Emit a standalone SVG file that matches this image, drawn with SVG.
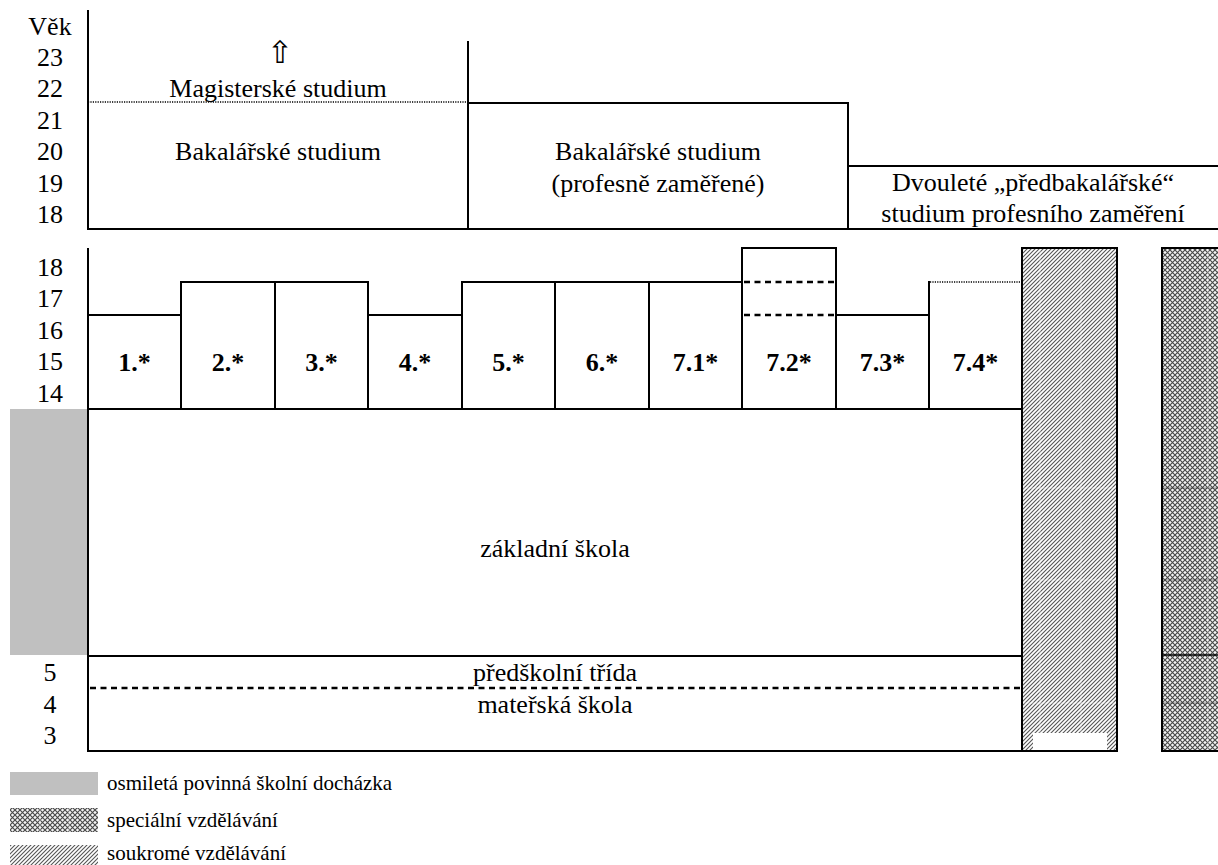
<svg xmlns="http://www.w3.org/2000/svg" width="1218" height="865" viewBox="0 0 1218 865">
<style>
.t{font-family:"Liberation Serif","Times New Roman","DejaVu Serif",serif;font-size:26px;fill:#000}
.c{text-anchor:middle}
.b{font-weight:bold;font-size:26px}
.lg{font-size:21px}
.ln{stroke:#000;stroke-width:2;fill:none}
.box{stroke:#000;stroke-width:2;fill:#fff}
.dash{stroke:#000;stroke-width:2.5;stroke-dasharray:6 4.5;fill:none}
.dot{stroke:#000;stroke-width:1.5;stroke-dasharray:1.2 1.2;fill:none}
.wl{stroke:#fff;stroke-width:1;opacity:0.45}
.dl{stroke:#222;stroke-width:1;opacity:0.5}
</style>
<defs>
<pattern id="hatch" patternUnits="userSpaceOnUse" width="4" height="4">
<rect width="4" height="4" fill="#fff"/>
<path d="M-1,1 L1,-1 M0,4 L4,0 M3,5 L5,3" stroke="#555" stroke-width="1.1"/>
</pattern>
<pattern id="check" patternUnits="userSpaceOnUse" width="5" height="5">
<rect width="5" height="5" fill="#f4f4f4"/>
<path d="M0,0 L5,5 M5,0 L0,5" stroke="#4a4a4a" stroke-width="1.15"/>
</pattern>
</defs>
<rect width="1218" height="865" fill="#fff"/>

<g id="age-axis">
<text class="t c" x="50" y="35">Věk</text>
<text class="t c" x="50" y="65.5">23</text>
<text class="t c" x="50" y="96.5">22</text>
<text class="t c" x="50" y="128.5">21</text>
<text class="t c" x="50" y="159.5">20</text>
<text class="t c" x="50" y="191.5">19</text>
<text class="t c" x="50" y="222.5">18</text>
<text class="t c" x="50" y="275.5">18</text>
<text class="t c" x="50" y="307">17</text>
<text class="t c" x="50" y="338.5">16</text>
<text class="t c" x="50" y="370">15</text>
<text class="t c" x="50" y="401.5">14</text>
<text class="t c" x="50" y="681">5</text>
<text class="t c" x="50" y="712.5">4</text>
<text class="t c" x="50" y="744">3</text>
</g>

<g id="compulsory">
<rect x="10" y="409" width="78" height="246" fill="#c0c0c0"/>
</g>

<g id="higher-ed">
<line class="ln" x1="88" y1="10" x2="88" y2="230"/>
<line class="ln" x1="87" y1="229" x2="1218" y2="229"/>
<line class="ln" x1="468" y1="41" x2="468" y2="229"/>
<line class="dot" x1="88" y1="102" x2="468" y2="102"/>
<text x="280" y="63" text-anchor="middle" font-family="DejaVu Sans, sans-serif" font-size="31">⇧</text>
<text class="t c" x="278" y="97">Magisterské studium</text>
<text class="t c" x="278" y="159.5">Bakalářské studium</text>
</g>

<g id="bachelor-prof">
<path class="ln" d="M468,103 H848 V229"/>
<text class="t c" x="658" y="160">Bakalářské studium</text>
<text class="t c" x="658" y="192">(profesně zaměřené)</text>
</g>

<g id="pre-bachelor">
<line class="ln" x1="848" y1="166" x2="1218" y2="166"/>
<text class="t c" x="1033" y="191">Dvouleté „předbakalářské“</text>
<text class="t c" x="1033" y="222">studium profesního zaměření</text>
</g>

<g id="lower-axis">
<line class="ln" x1="88" y1="248" x2="88" y2="752"/>
</g>

<g id="col-1"><rect class="box" x="88" y="315" width="93" height="94"/><text class="t c b" x="134.5" y="371">1.*</text></g>
<g id="col-2"><rect class="box" x="181" y="282" width="94" height="127"/><text class="t c b" x="228" y="371">2.*</text></g>
<g id="col-3"><rect class="box" x="275" y="282" width="93" height="127"/><text class="t c b" x="321.5" y="371">3.*</text></g>
<g id="col-4"><rect class="box" x="368" y="315" width="94" height="94"/><text class="t c b" x="415" y="371">4.*</text></g>
<g id="col-5"><rect class="box" x="462" y="282" width="93" height="127"/><text class="t c b" x="508.5" y="371">5.*</text></g>
<g id="col-6"><rect class="box" x="555" y="282" width="94" height="127"/><text class="t c b" x="602" y="371">6.*</text></g>
<g id="col-71"><rect class="box" x="649" y="282" width="93" height="127"/><text class="t c b" x="695.5" y="371">7.1*</text></g>
<g id="col-72"><rect class="box" x="742" y="248" width="94" height="161"/>
<line class="dash" x1="744" y1="282" x2="836" y2="282"/>
<line class="dash" x1="744" y1="315" x2="836" y2="315"/>
<text class="t c b" x="789" y="371">7.2*</text></g>
<g id="col-73"><rect class="box" x="836" y="315" width="93" height="94"/><text class="t c b" x="882.5" y="371">7.3*</text></g>
<g id="col-74">
<line class="ln" x1="929" y1="281" x2="929" y2="409"/>
<line class="ln" x1="929" y1="409" x2="1022" y2="409"/>
<line class="dot" x1="930" y1="282" x2="1022" y2="282"/>
<text class="t c b" x="975.5" y="371">7.4*</text></g>

<g id="basic-school">
<rect class="box" x="88" y="409" width="934" height="247"/>
<text class="t c" x="555" y="557">základní škola</text>
</g>

<g id="preschool">
<rect class="box" x="88" y="656" width="934" height="95"/>
<line class="dash" x1="90" y1="688" x2="1022" y2="688"/>
<text class="t c" x="555" y="681">předškolní třída</text>
<text class="t c" x="555" y="713">mateřská škola</text>
</g>

<g id="private">
<rect x="1022" y="248" width="95" height="503" fill="url(#hatch)" stroke="#000" stroke-width="2"/>
<line class="wl" x1="1040" y1="250" x2="1040" y2="733"/>
<line class="wl" x1="1081" y1="250" x2="1081" y2="733"/>
<line class="wl" x1="1023" y1="488" x2="1116" y2="488"/>
<line class="wl" x1="1023" y1="580" x2="1116" y2="580"/>
<line class="wl" x1="1023" y1="703" x2="1116" y2="703"/>
<rect x="1033" y="733" width="74" height="17" fill="#fff"/>
</g>

<g id="special">
<rect x="1162" y="248" width="70" height="503" fill="url(#check)" stroke="#000" stroke-width="2"/>
<line class="wl" x1="1208" y1="250" x2="1208" y2="750"/>
<line class="dl" x1="1163" y1="488" x2="1218" y2="488"/>
<line class="dl" x1="1163" y1="580" x2="1218" y2="580"/>
<line stroke="#000" stroke-width="1.5" x1="1163" y1="655" x2="1218" y2="655"/>
<line class="dl" x1="1163" y1="703" x2="1218" y2="703"/>
</g>

<g id="legend">
<rect x="10" y="772" width="88" height="23" fill="#c0c0c0"/>
<text class="t lg" x="107" y="790">osmiletá povinná školní docházka</text>
<rect x="10" y="808" width="88" height="24" fill="url(#check)"/>
<line class="wl" x1="40" y1="808" x2="40" y2="832"/>
<line class="wl" x1="69" y1="808" x2="69" y2="832"/>
<text class="t lg" x="107" y="827">speciální vzdělávání</text>
<rect x="10" y="845" width="88" height="20" fill="url(#hatch)"/>
<text class="t lg" x="107" y="860">soukromé vzdělávání</text>
</g>
</svg>
